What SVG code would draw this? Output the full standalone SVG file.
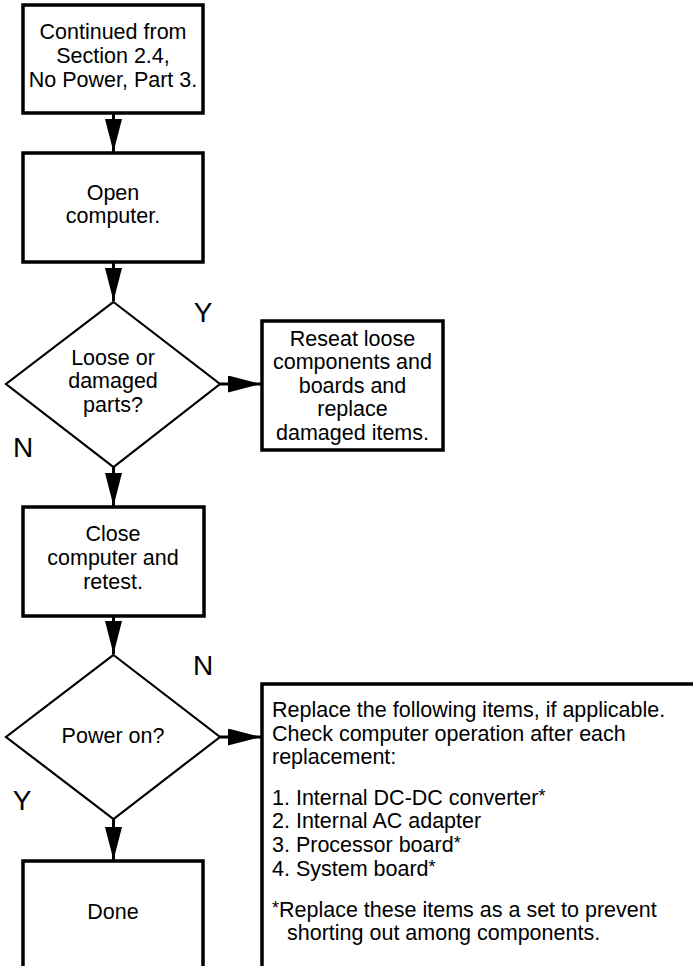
<svg xmlns="http://www.w3.org/2000/svg" width="693" height="966" viewBox="0 0 693 966">
<defs>
<style>
.box{fill:#fff;stroke:#000;stroke-width:3.5}
.dia{fill:#fff;stroke:#000;stroke-width:2.2}
.t{font-family:"Liberation Sans",Arial,sans-serif;font-size:21.5px;fill:#000}
.c{text-anchor:middle}
.lbl{font-family:"Liberation Sans",Arial,sans-serif;font-size:28px;fill:#000;text-anchor:middle}
.ln{stroke:#000;stroke-width:3;fill:none}
.ast{font-size:18px}
</style>
<marker id="ah" markerUnits="userSpaceOnUse" markerWidth="33" markerHeight="17" refX="33" refY="8.5" orient="auto" viewBox="0 0 33 17">
<path d="M0,0 L33,8.5 L0,17 z" fill="#000"/>
</marker>
</defs>
<rect width="693" height="966" fill="#fff"/>
<g id="connectors">
<line class="ln" x1="113.5" y1="113" x2="113.5" y2="152" marker-end="url(#ah)"/>
<line class="ln" x1="113.5" y1="262" x2="113.5" y2="301" marker-end="url(#ah)"/>
<line class="ln" x1="220" y1="384" x2="261" y2="384" marker-end="url(#ah)"/>
<line class="ln" x1="113.5" y1="467" x2="113.5" y2="506" marker-end="url(#ah)"/>
<line class="ln" x1="113.5" y1="616" x2="113.5" y2="654" marker-end="url(#ah)"/>
<line class="ln" x1="220" y1="737" x2="261" y2="737" marker-end="url(#ah)"/>
<line class="ln" x1="113.5" y1="819" x2="113.5" y2="860" marker-end="url(#ah)"/>
<text class="lbl" x="203" y="322">Y</text>
<text class="lbl" x="23" y="457">N</text>
<text class="lbl" x="203" y="675">N</text>
<text class="lbl" x="22" y="810">Y</text>
</g>
<g id="start">
<rect class="box" x="23" y="5" width="180" height="108"/>
<text class="t c" x="113" y="39">Continued from</text>
<text class="t c" x="113" y="63">Section 2.4,</text>
<text class="t c" x="113" y="87">No Power, Part 3.</text>
</g>
<g id="open">
<rect class="box" x="23" y="153" width="180" height="109"/>
<text class="t c" x="113" y="200">Open</text>
<text class="t c" x="113" y="223">computer.</text>
</g>
<g id="loose">
<polygon class="dia" points="113.5,302 220,384 113.5,467 6,384"/>
<text class="t c" x="113" y="365">Loose or</text>
<text class="t c" x="113" y="388">damaged</text>
<text class="t c" x="113" y="412">parts?</text>
</g>
<g id="reseat">
<rect class="box" x="262" y="321" width="181" height="129"/>
<text class="t c" x="352.5" y="346">Reseat loose</text>
<text class="t c" x="352.5" y="369">components and</text>
<text class="t c" x="352.5" y="393">boards and</text>
<text class="t c" x="352.5" y="416">replace</text>
<text class="t c" x="352.5" y="440">damaged items.</text>
</g>
<g id="close">
<rect class="box" x="23" y="507" width="181" height="109"/>
<text class="t c" x="113" y="541">Close</text>
<text class="t c" x="113" y="565">computer and</text>
<text class="t c" x="113" y="589">retest.</text>
</g>
<g id="power">
<polygon class="dia" points="113.5,655 220,737 113.5,819 6,737"/>
<text class="t c" x="113" y="743">Power on?</text>
</g>
<g id="replace">
<rect class="box" x="262" y="684" width="460" height="320"/>
<text class="t" x="272" y="717">Replace the following items, if applicable.</text>
<text class="t" x="272" y="741">Check computer operation after each</text>
<text class="t" x="272" y="764">replacement:</text>
<text class="t" x="272" y="805">1. Internal DC-DC converter<tspan class="ast" dy="-3">*</tspan></text>
<text class="t" x="272" y="828">2. Internal AC adapter</text>
<text class="t" x="272" y="852">3. Processor board<tspan class="ast" dy="-3">*</tspan></text>
<text class="t" x="272" y="876">4. System board<tspan class="ast" dy="-3">*</tspan></text>
<text class="t" x="272" y="917"><tspan class="ast" dy="-3">*</tspan><tspan dy="3">Replace these items as a set to prevent</tspan></text>
<text class="t" x="287" y="940">shorting out among components.</text>
</g>
<g id="done">
<rect class="box" x="23" y="861" width="180" height="140"/>
<text class="t c" x="113" y="919">Done</text>
</g>
</svg>
